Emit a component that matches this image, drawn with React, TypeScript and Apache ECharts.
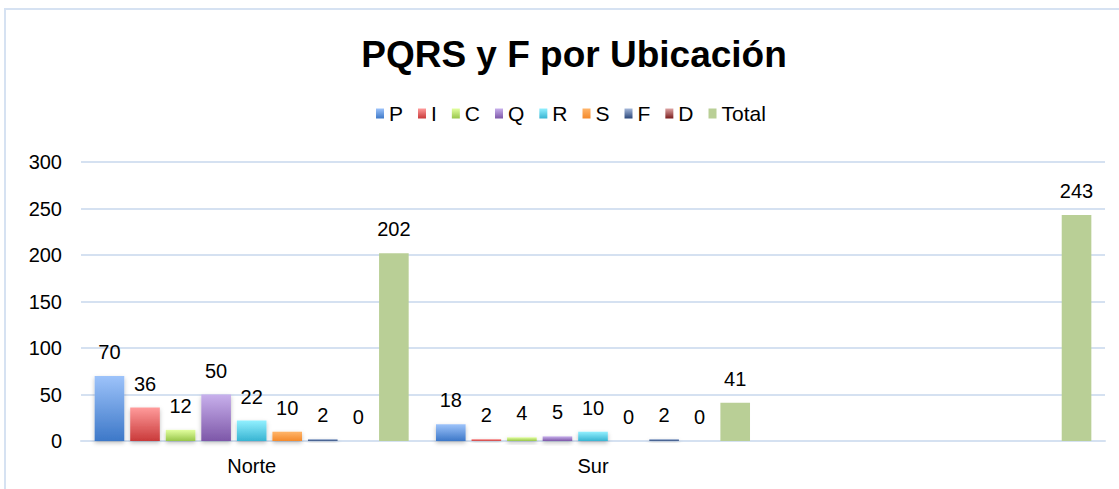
import React, { useEffect, useRef } from "react";
import * as echarts from "echarts";

const categories = ["Norte", "Sur", ""];
const seriesNames = ["P", "I", "C", "Q", "R", "S", "F", "D", "Total"];
const P = [70, 18, null];
const I = [36, 2, null];
const C = [12, 4, null];
const Q = [50, 5, null];
const R = [22, 10, null];
const S = [10, 0, null];
const F = [2, 2, null];
const D = [0, 0, null];
const Total = [202, 41, 243];
const seriesData = [P, I, C, Q, R, S, F, D, Total];
const yTicks = { min: 0, max: 300, interval: 50 };

const gradients: [string, string][] = [
  ["#9dc3fa", "#3d78c8"],
  ["#ff9b9b", "#c93a3a"],
  ["#e2ff9f", "#98c64a"],
  ["#c8b0ec", "#7d57a8"],
  ["#92f0ff", "#38b4d2"],
  ["#ffb56a", "#f48a2c"],
  ["#a5b8da", "#2a477a"],
  ["#dda4a4", "#7a1c1c"],
  ["#b9cf96", "#b9cf96"],
];

export default function App() {
  const ref = useRef<HTMLDivElement>(null);
  useEffect(() => {
    if (!ref.current) return;
    const chart = echarts.init(ref.current, null, { renderer: "svg" });
    const font = "'Liberation Sans', Arial, sans-serif";
    chart.setOption({
      animation: false,
      backgroundColor: "#ffffff",
      title: {
        text: "PQRS y F por Ubicación",
        left: 569,
        textAlign: "center",
        top: 31,
        textStyle: { fontFamily: font, fontSize: 37, fontWeight: "bold", color: "#000" },
      },
      legend: {
        top: 98,
        left: 371,
        itemWidth: 8,
        itemHeight: 10,
        itemGap: 15,
        icon: "rect",
        textStyle: { fontFamily: font, fontSize: 21, color: "#000" },
        data: seriesNames,
      },
      graphic: [
        {
          type: "rect",
          shape: { x: 5, y: 9, width: 1130, height: 500 },
          style: { fill: "none", stroke: "#d6e2f2", lineWidth: 2 },
          silent: true,
        },
      ],
      grid: { left: 81, right: 14, top: 162, bottom: 48, containLabel: false },
      xAxis: {
        type: "category",
        data: categories,
        axisTick: { show: false },
        axisLine: { lineStyle: { color: "#d5e1f1", width: 2 } },
        axisLabel: { fontFamily: font, fontSize: 20, color: "#000", margin: 15 },
      },
      yAxis: {
        type: "value",
        min: yTicks.min,
        max: yTicks.max,
        interval: yTicks.interval,
        axisLine: { show: false },
        axisTick: { show: false },
        splitLine: { lineStyle: { color: "#d5e1f1", width: 2 } },
        axisLabel: { fontFamily: font, fontSize: 20, color: "#000", margin: 19 },
      },
      series: seriesNames.map((name, i) => ({
        name,
        type: "bar",
        data: seriesData[i],
        barGap: "20%",
        barCategoryGap: "8%",
        itemStyle: {
          color: new echarts.graphic.LinearGradient(0, 0, 0, 1, [
            { offset: 0, color: gradients[i][0] },
            { offset: 1, color: gradients[i][1] },
          ]),
          shadowColor: i === 8 ? "transparent" : "rgba(0,0,0,0.25)",
          shadowBlur: i === 8 ? 0 : 4,
          shadowOffsetY: i === 8 ? 0 : 2,
        },
        label: {
          show: true,
          position: "top",
          distance: 14,
          fontFamily: font,
          fontSize: 20,
          color: "#000",
        },
      })),
    });
    return () => chart.dispose();
  }, []);
  return (
    <div
      ref={ref}
      style={{ position: "fixed", left: 0, top: 0, width: 1119, height: 489 }}
    />
  );
}
